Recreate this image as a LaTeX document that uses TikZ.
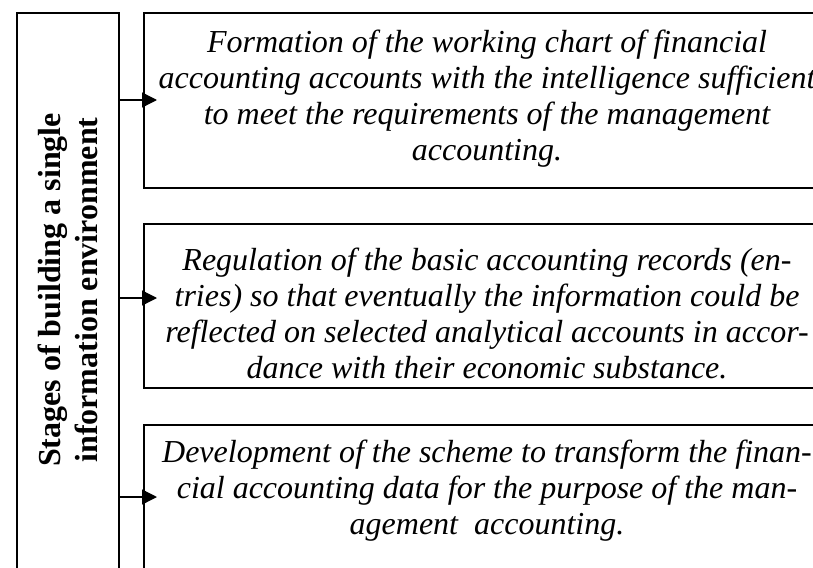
\documentclass[tikz,border=0pt]{standalone}
\usepackage{fontspec}
\setmainfont{Liberation Serif}
\usetikzlibrary{arrows.meta,calc}
\begin{document}
\begin{tikzpicture}[x=1pt,y=-1pt,
  frame/.style={draw,line width=1.4pt,rectangle,inner sep=0pt,outer sep=0pt,anchor=north west},
  itxt/.style={font=\fontsize{32}{36}\selectfont\itshape,align=center,inner sep=0pt},
  btxt/.style={font=\fontsize{32}{37}\selectfont\bfseries,align=center,inner sep=0pt,rotate=90},
  conn/.style={line width=1.4pt,-{Triangle[length=15pt,width=15pt]}}]
\useasboundingbox (0,0) rectangle (813,567);
\clip (0,0) rectangle (813,567);
% boxes
\node[frame,minimum width=102pt,minimum height=620pt] (left) at (17,13) {};
\node[frame,minimum width=686pt,minimum height=175pt] (b1) at (144,13) {};
\node[frame,minimum width=686pt,minimum height=164pt] (b2) at (144,224) {};
\node[frame,minimum width=686pt,minimum height=220pt] (b3) at (144,425) {};
% texts
\node[btxt] (title) at (68,290) {Stages of building a single\\information environment};
\node[itxt] (t1) at (487,99) {Formation of the working chart of financial\\accounting accounts with the intelligence sufficient\\to meet the requirements of the management\\accounting.};
\node[itxt] (t2) at (487,313) {Regulation of the basic accounting records (en-\\tries) so that eventually the information could be\\reflected on selected analytical accounts in accor-\\dance with their economic substance.};
\node[itxt] (t3) at (487,491) {Development of the scheme to transform the finan-\\cial accounting data for the purpose of the man-\\agement~ accounting.};
% connectors
\coordinate (e1) at (157,100);
\coordinate (e2) at (157,298);
\coordinate (e3) at (157,497);
\draw[conn] (left.east |- e1) -- (e1);
\draw[conn] (left.east |- e2) -- (e2);
\draw[conn] (left.east |- e3) -- (e3);
\end{tikzpicture}
\end{document}
